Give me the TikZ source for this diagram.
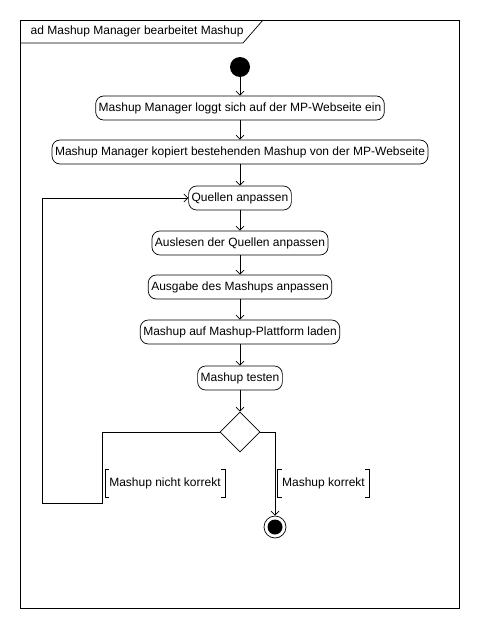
\documentclass[tikz,border=0pt]{standalone}
\usepackage{fontspec}
\setmainfont{Liberation Sans}
\usetikzlibrary{arrows.meta,shapes.geometric}
\tikzset{
  action/.style={draw,rounded corners=8pt,minimum height=24pt,inner xsep=3pt,inner ysep=2pt,font=\fontsize{12}{14}\selectfont},
  guard/.style={inner xsep=4pt,minimum height=27pt,font=\fontsize{12}{14}\selectfont},
  decision/.style={draw,diamond,minimum width=40pt,minimum height=40pt,inner sep=0pt},
}
\newcommand{\guardbox}[1]{%
  \draw (#1.north west) ++(4,0) -- (#1.north west) -- (#1.south west) -- ++(4,0);
  \draw (#1.north east) ++(-4,0) -- (#1.north east) -- (#1.south east) -- ++(-4,0);}
\begin{document}
\begin{tikzpicture}[x=1pt,y=-1pt,line width=0.7pt,>={Straight Barb[length=4pt,width=8pt]}]
  \useasboundingbox (0,0) rectangle (480,629);
  % frame
  \draw (20,20) rectangle (459,608);
  \draw (20,43) -- (243,43) -- (263,20);
  \node[anchor=west,font=\fontsize{12}{14}\selectfont] (title) at (27,31.5) {ad Mashup Manager bearbeitet Mashup};
  \draw
    (240,67) node[circle,fill,minimum size=20pt,inner sep=0pt] (start){}
    (240,108) node[action] (1){Mashup Manager loggt sich auf der MP-Webseite ein}
    (240,152) node[action] (2){Mashup Manager kopiert bestehenden Mashup von der MP-Webseite}
    (240,198) node[action] (3){Quellen anpassen}
    (240,243) node[action] (4){Auslesen der Quellen anpassen}
    (240,287) node[action] (5){Ausgabe des Mashups anpassen}
    (240,332) node[action] (6){Mashup auf Mashup-Plattform laden}
    (240,378) node[action] (7){Mashup testen}
    (240,432) node[decision] (dec){}
    (275,527) node[circle,draw,minimum size=22pt,inner sep=0pt] (end){}
    (165,483) node[guard] (g1){Mashup nicht korrekt}
    (323.5,483) node[guard] (g2){Mashup korrekt};
  \fill (end) circle (7.5pt);
  \guardbox{g1}
  \guardbox{g2}
  \coordinate (l1) at (102,432);
  \coordinate (l2) at (102,503);
  \coordinate (l3) at (42,503);
  \coordinate (l4) at (42,198);
  \begin{scope}[->]
    \draw (start) to (1);
    \draw (1) to (2);
    \draw (2) to (3);
    \draw (3) to (4);
    \draw (4) to (5);
    \draw (5) to (6);
    \draw (6) to (7);
    \draw (7) to (dec);
    \draw (dec.west) -- (l1) -- (l2) -- (l3) -- (l4) -- (3.west);
    \draw (dec.east) -| (end.north);
  \end{scope}
\end{tikzpicture}
\end{document}
